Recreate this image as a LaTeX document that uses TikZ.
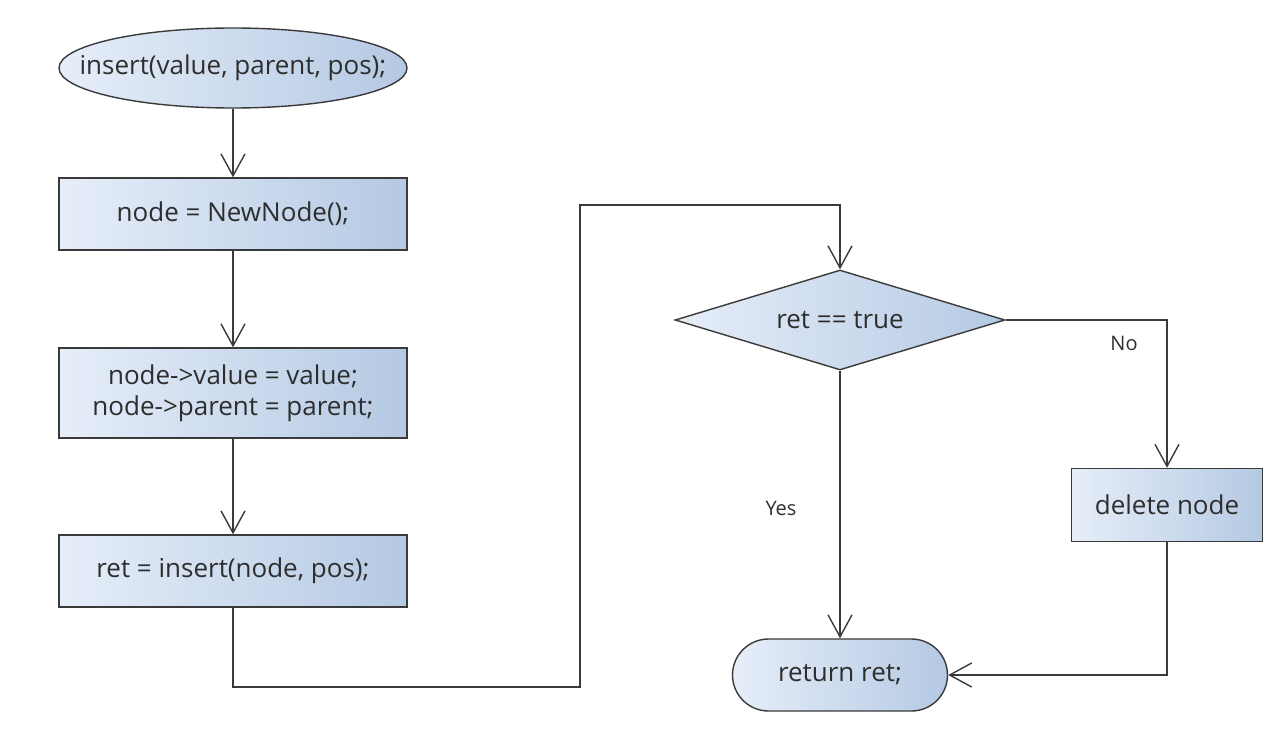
\documentclass[tikz,border=0pt]{standalone}
\usepackage{fontspec}
\setmainfont{Open Sans}
\usetikzlibrary{arrows.meta,shapes.geometric,shapes.misc}
\definecolor{lineC}{HTML}{3A3A3A}
\definecolor{txtC}{HTML}{2E2E2E}
\definecolor{fillL}{HTML}{E6EEF9}
\definecolor{fillR}{HTML}{B5C9E3}
\tikzset{
  shapebase/.style={draw=lineC, line width=1.4pt, left color=fillL, right color=fillR,
    text=txtC, font=\fontsize{26}{31}\selectfont, inner sep=0pt, align=center},
  procbox/.style={shapebase, rectangle, minimum width=348pt, minimum height=72pt},
  startnode/.style={shapebase, ellipse, minimum width=348pt, minimum height=80pt},
  centertext/.style={label={[text=txtC, font=\fontsize{26}{31}\selectfont]center:#1}},
  decide/.style={shapebase, diamond, aspect=3.3, minimum width=330pt, minimum height=100pt},
  endnode/.style={shapebase, rounded rectangle, minimum width=215pt, minimum height=72pt},
  conn/.style={draw=lineC, line width=1.4pt, -{Straight Barb[length=22pt,width=24pt,line width=1.4pt]}},
  lbl/.style={text=txtC, font=\fontsize{20}{24}\selectfont},
}
\begin{document}
\begin{tikzpicture}[x=1pt,y=-1pt]
\useasboundingbox (0,0) rectangle (1276,738);
\node[startnode, centertext={insert(value, parent, pos);}] (s) at (233,68) {};
\node[procbox] (b1) at (233,214) {node = NewNode();};
\node[procbox, minimum height=90pt] (b2) at (233,393) {node->value = value;\\node->parent = parent;};
\node[procbox] (b3) at (233,571) {ret = insert(node, pos);};
\node[decide] (d) at (840,320) {ret == true};
\node[procbox, minimum width=191pt, minimum height=73pt] (del) at (1167,505) {delete node};
\node[endnode] (r) at (840,675) {return ret;};
\coordinate (c1) at (580,687);
\coordinate (c2) at (840,205);
\draw[conn] (s) -- (b1);
\draw[conn] (b1) -- (b2);
\draw[conn] (b2) -- (b3);
\draw[conn] (b3.south) |- (c1) |- (c2) -- (d.north);
\draw[conn] (d.east) -| (del.north);
\draw[conn] (d.south) -- (r.north);
\draw[conn] (del.south) |- (r.east);
\node[lbl] (no) at (1124,343) {No};
\node[lbl] (yes) at (781,508) {Yes};
\end{tikzpicture}
\end{document}
